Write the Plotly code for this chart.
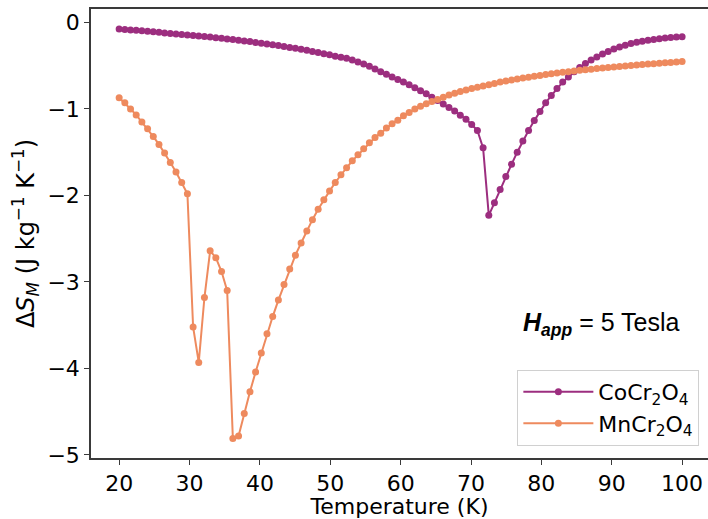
import plotly.graph_objects as go

temperature = [20.00, 20.81, 21.62, 22.42, 23.23, 24.04, 24.85, 25.66, 26.46, 27.27,
               28.08, 28.89, 29.70, 30.51, 31.31, 32.12, 32.93, 33.74, 34.55, 35.35,
               36.16, 36.97, 37.78, 38.59, 39.39, 40.20, 41.01, 41.82, 42.63, 43.43,
               44.24, 45.05, 45.86, 46.67, 47.47, 48.28, 49.09, 49.90, 50.71, 51.52,
               52.32, 53.13, 53.94, 54.75, 55.56, 56.36, 57.17, 57.98, 58.79, 59.60,
               60.40, 61.21, 62.02, 62.83, 63.64, 64.44, 65.25, 66.06, 66.87, 67.68,
               68.48, 69.29, 70.10, 70.91, 71.72, 72.53, 73.33, 74.14, 74.95, 75.76,
               76.57, 77.37, 78.18, 78.99, 79.80, 80.61, 81.41, 82.22, 83.03, 83.84,
               84.65, 85.45, 86.26, 87.07, 87.88, 88.69, 89.49, 90.30, 91.11, 91.92,
               92.73, 93.54, 94.34, 95.15, 95.96, 96.77, 97.58, 98.38, 99.19, 100.00]

dS_CoCr2O4 = [-0.077, -0.082, -0.087, -0.092, -0.097, -0.103, -0.109, -0.115, -0.121, -0.127,
              -0.133, -0.139, -0.145, -0.151, -0.157, -0.163, -0.170, -0.177, -0.184, -0.191,
              -0.198, -0.206, -0.214, -0.222, -0.231, -0.240, -0.249, -0.258, -0.268, -0.278,
              -0.289, -0.300, -0.311, -0.323, -0.335, -0.348, -0.361, -0.375, -0.390, -0.402,
              -0.415, -0.435, -0.457, -0.481, -0.508, -0.538, -0.571, -0.600, -0.630, -0.660,
              -0.690, -0.721, -0.755, -0.790, -0.826, -0.864, -0.904, -0.944, -0.983, -1.025,
              -1.072, -1.120, -1.180, -1.25, -1.45, -2.23, -2.085, -1.93, -1.78, -1.64,
              -1.50, -1.37, -1.25, -1.135, -1.03, -0.93, -0.845, -0.765, -0.69, -0.63,
              -0.57, -0.52, -0.475, -0.435, -0.40, -0.365, -0.335, -0.308, -0.284, -0.263,
              -0.245, -0.230, -0.217, -0.206, -0.197, -0.189, -0.181, -0.175, -0.170, -0.165]

dS_MnCr2O4 = [-0.87, -0.93, -1.00, -1.07, -1.15, -1.23, -1.32, -1.41, -1.51, -1.62,
              -1.73, -1.85, -1.98, -3.52, -3.93, -3.18, -2.64, -2.72, -2.88, -3.10,
              -4.81, -4.78, -4.52, -4.27, -4.04, -3.82, -3.60, -3.40, -3.21, -3.03,
              -2.85, -2.69, -2.55, -2.41, -2.28, -2.16, -2.05, -1.95, -1.85, -1.76,
              -1.68, -1.60, -1.53, -1.46, -1.39, -1.33, -1.28, -1.22, -1.17, -1.13,
              -1.08, -1.04, -1.00, -0.97, -0.94, -0.915, -0.89, -0.865, -0.84, -0.82,
              -0.80, -0.78, -0.765, -0.75, -0.735, -0.72, -0.705, -0.69, -0.678, -0.666,
              -0.655, -0.644, -0.633, -0.623, -0.613, -0.603, -0.594, -0.585, -0.577, -0.569,
              -0.561, -0.554, -0.547, -0.540, -0.533, -0.527, -0.521, -0.515, -0.509, -0.503,
              -0.497, -0.492, -0.487, -0.482, -0.477, -0.472, -0.467, -0.462, -0.457, -0.452]

series_names = ["CoCr<sub>2</sub>O<sub>4</sub>", "MnCr<sub>2</sub>O<sub>4</sub>"]
series_colors = ["#9c2e7f", "#ee8a5e"]

x_tick_vals = [20, 30, 40, 50, 60, 70, 80, 90, 100]
x_tick_text = ["20", "30", "40", "50", "60", "70", "80", "90", "100"]
y_tick_vals = [0, -1, -2, -3, -4, -5]
y_tick_text = ["0", "\u22121", "\u22122", "\u22123", "\u22124", "\u22125"]

FONT = "DejaVu Sans"
AXIS_COLOR = "#3a3a3a"

fig = go.Figure()
for name, ys, col in zip(series_names, [dS_CoCr2O4, dS_MnCr2O4], series_colors):
    fig.add_trace(go.Scatter(
        x=temperature, y=ys, name=name, mode="lines+markers",
        line=dict(color=col, width=2),
        marker=dict(color=col, size=7),
    ))

fig.update_layout(
    width=708, height=519,
    margin=dict(l=91, r=0, t=9, b=61),
    paper_bgcolor="white", plot_bgcolor="white",
    font=dict(family=FONT, size=22, color="black"),
    showlegend=True,
    legend=dict(
        x=0.986, y=0.027, xanchor="right", yanchor="bottom",
        bgcolor="white", bordercolor="#d0d0d0", borderwidth=1,
        font=dict(family=FONT, size=22, color="black"),
        itemwidth=70, tracegroupgap=0,
    ),
    xaxis=dict(
        range=[16, 103.68], showgrid=False, zeroline=False,
        showline=True, linecolor=AXIS_COLOR, linewidth=1.5, mirror=True,
        ticks="outside", ticklen=5, tickwidth=1.3, tickcolor=AXIS_COLOR,
        tickvals=x_tick_vals, ticktext=x_tick_text,
        tickfont=dict(family=FONT, size=22, color="black"),
        title=dict(text="Temperature (K)", font=dict(family=FONT, size=22), standoff=6),
    ),
    yaxis=dict(
        range=[-5.035, 0.155], showgrid=False, zeroline=False,
        showline=True, linecolor=AXIS_COLOR, linewidth=1.5,
        ticks="outside", ticklen=5, tickwidth=1.3, tickcolor=AXIS_COLOR,
        tickvals=y_tick_vals, ticktext=y_tick_text,
        tickfont=dict(family=FONT, size=22, color="black"),
        title=dict(text="\u0394<i>S</i><sub><i>M</i></sub> (J kg<sup>\u22121</sup> K<sup>\u22121</sup>)",
                   font=dict(family=FONT, size=24), standoff=6),
    ),
)

fig.add_annotation(
    xref="paper", yref="paper", x=0.958, y=0.259, xanchor="right", yanchor="bottom",
    text="<b><i>H</i></b><sub><b><i>app</i></b></sub> = 5 Tesla",
    showarrow=False,
    font=dict(family="Liberation Sans", size=25, color="black"),
)

fig.write_html("out.html")
